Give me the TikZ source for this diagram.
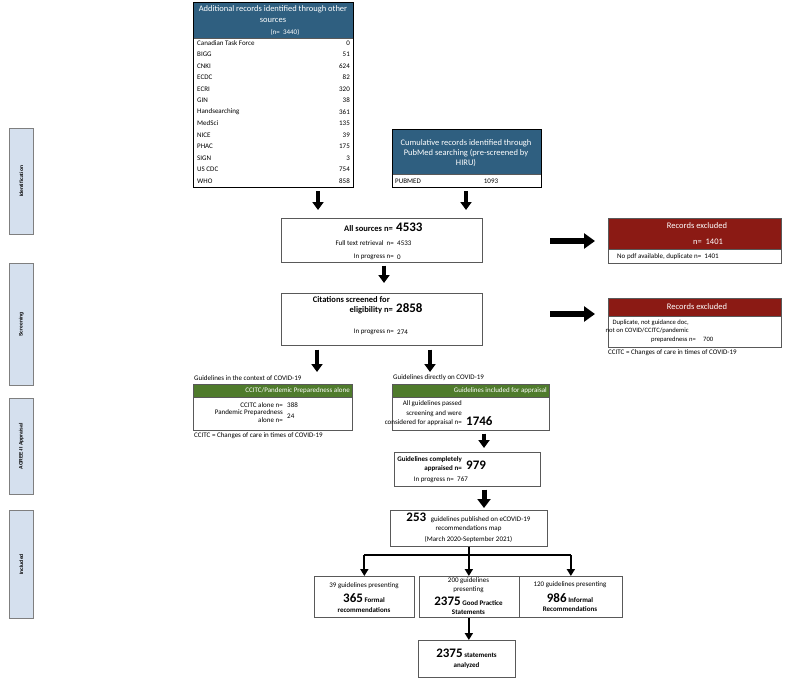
\documentclass[tikz,border=0pt]{standalone}
\usepackage{fontspec}
\setmainfont{Carlito}
\newfontfamily\arialf{Liberation Sans}
\usetikzlibrary{arrows.meta,calc}
\definecolor{hblue}{HTML}{2F5F80}
\definecolor{hred}{HTML}{8B1A14}
\definecolor{hgreen}{HTML}{4F7B2C}
\definecolor{sideblue}{HTML}{D5E0EE}
\definecolor{sidegray}{HTML}{7F7F7F}
\definecolor{boxgray}{HTML}{595959}
\begin{document}
\begin{tikzpicture}[x=1pt,y=-1pt,
  frame/.style={draw=boxgray, line width=0.7pt, anchor=north west, inner sep=0pt},
  thickframe/.style={draw=black, line width=1.4pt, anchor=north west, inner sep=0pt},
  head/.style={anchor=north west, inner sep=0pt, draw=boxgray, line width=0.7pt},
  t/.style={inner sep=0pt, font=\fontsize{7}{8}\selectfont},
  tb/.style={inner sep=0pt, font=\fontsize{8.5}{9.5}\selectfont\bfseries},
  tbs/.style={inner sep=0pt, font=\fontsize{7}{8}\selectfont\bfseries},
  hd/.style={inner sep=0pt, text=white, font=\fontsize{8.5}{9.5}\selectfont},
  hdg/.style={inner sep=0pt, text=white, font=\fontsize{7}{8}\selectfont},
  big/.style={inner sep=0pt, font=\fontsize{13}{13}\selectfont\bfseries},
  side/.style={draw=sidegray, fill=sideblue, line width=0.8pt, anchor=north west, inner sep=0pt},
  sidetext/.style={inner sep=0pt, rotate=90, font=\arialf\fontsize{5}{6}\selectfont\bfseries},
  blockdown/.style={line width=4.5pt, -{Triangle[width=11pt,length=8pt]}},
  blockright/.style={line width=6pt, -{Triangle[width=15pt,length=11pt]}},
  conn/.style={line width=2pt},
  connarrow/.style={line width=2pt, -{Triangle[width=8pt,length=7pt]}}
]
\useasboundingbox (0,0) rectangle (789,680);

% ---------- side labels ----------
\node[side, minimum width=24pt, minimum height=106pt] (sid1) at (9,128) {};
\node[sidetext] (sid1t) at (sid1.center) {Identification};
\node[side, minimum width=24pt, minimum height=122pt] (sid2) at (9,263) {};
\node[sidetext] (sid2t) at (sid2.center) {Screening};
\node[side, minimum width=24pt, minimum height=96pt] (sid3) at (9,398) {};
\node[sidetext] (sid3t) at (sid3.center) {AGREE-II Appraisal};
\node[side, minimum width=24pt, minimum height=108pt] (sid4) at (9,510) {};
\node[sidetext] (sid4t) at (sid4.center) {Included};

% ---------- additional records ----------
\node[head, fill=hblue, minimum width=160pt, minimum height=36pt] (addh) at (193,2) {};
\node[hd] (addh1) at (273,9.5) {Additional records identified through other};
\node[hd] (addh2) at (273,20.5) {sources};
\node[hdg] (addh3) at (285,32) {(n=\ \ 3440)};
\foreach \n/\v [count=\i from 0] in {Canadian Task Force/0, BIGG/51, CNKI/624, ECDC/82, ECRI/320, GIN/38, Handsearching/361, MedSci/135, NICE/39, PHAC/175, SIGN/3, US CDC/754, WHO/858}{
  \node[t, anchor=west] (r\i) at (197,{43+11.5*\i}) {\n};
  \node[t, anchor=east] (v\i) at (350,{43+11.5*\i}) {\v};
}
\node[thickframe, minimum width=160pt, minimum height=185pt] (add) at (193,2) {};

% ---------- PubMed ----------
\node[head, fill=hblue, minimum width=149pt, minimum height=45pt] (pubh) at (392,129) {};
\node[hd] (pubh1) at (466,143) {Cumulative records identified through};
\node[hd] (pubh2) at (466,153) {PubMed searching (pre-screened by};
\node[hd] (pubh3) at (466,163) {HIRU)};
\node[t, anchor=west] (pubr) at (395,181) {PUBMED};
\node[t] (pubv) at (491,181) {1093};
\node[thickframe, minimum width=149pt, minimum height=58pt] (pubm) at (392,129) {};

% ---------- all sources ----------
\node[frame, minimum width=201pt, minimum height=44pt] (all) at (281,218) {};
\node[tb, anchor=east] (all1) at (393,228.5) {All sources n=};
\node[big, anchor=west] (all1v) at (396,227) {4533};
\node[t, anchor=east] (all2) at (394,243) {Full text retrieval\ \ n=};
\node[t, anchor=west] (all2v) at (397,243) {4533};
\node[t, anchor=east] (all3) at (394,257) {In progress n=};
\node[t, anchor=west] (all3v) at (397,257) {0};

\coordinate (ax1) at (318,0);
\coordinate (ax2) at (466,0);
\draw[blockdown, shorten <=3pt, shorten >=8pt] (add.south -| ax1) -- (all.north -| ax1);
\draw[blockdown, shorten <=3pt, shorten >=8pt] (pubm.south -| ax2) -- (all.north -| ax2);

% ---------- citations ----------
\node[frame, minimum width=201pt, minimum height=52pt] (cit) at (281,293) {};
\node[tb, anchor=east] (cit1) at (390,300) {Citations screened for};
\node[tb, anchor=east] (cit2) at (393,310) {eligibility n=};
\node[big, anchor=west] (cit2v) at (396,308) {2858};
\node[t, anchor=east] (cit3) at (394,332) {In progress n=};
\node[t, anchor=west] (cit3v) at (397,332) {274};

\coordinate (ax3) at (384,0);
\draw[blockdown, shorten <=3pt, shorten >=10pt] (all.south -| ax3) -- (cit.north -| ax3);

% ---------- excluded 1 ----------
\node[head, fill=hred, minimum width=173pt, minimum height=31pt] (ex1h) at (608,218) {};
\node[hd] (ex1h1) at (697,226) {Records excluded};
\node[hd] (ex1h2) at (708,242) {n=\ \ 1401};
\node[frame, minimum width=173pt, minimum height=45pt] (ex1) at (608,218) {};
\node[t, anchor=west] (ex1b) at (617,257) {No pdf available, duplicate n=\ \ 1401};
\coordinate (rs1) at (550,241);
\coordinate (re1) at (595,241);
\draw[blockright] (rs1) -- (re1);

% ---------- excluded 2 ----------
\node[head, fill=hred, minimum width=173pt, minimum height=18pt] (ex2h) at (608,298) {};
\node[hd] (ex2h1) at (697,307) {Records excluded};
\node[frame, minimum width=173pt, minimum height=49pt] (ex2) at (608,298) {};
\node[t, font=\fontsize{6.6}{7.5}\selectfont, anchor=east] (ex2b1) at (689,322.5) {Duplicate, not guidance doc,};
\node[t, font=\fontsize{6.6}{7.5}\selectfont, anchor=east] (ex2b2) at (689,331) {not on COVID/CCITC/pandemic};
\node[t, font=\fontsize{6.6}{7.5}\selectfont, anchor=east] (ex2b3) at (696,339.5) {preparedness n=};
\node[t, font=\fontsize{6.6}{7.5}\selectfont, anchor=west] (ex2b3v) at (703,339.5) {700};
\node[t, anchor=west] (ex2f) at (608,353) {CCITC = Changes of care in times of COVID-19};
\coordinate (rs2) at (550,314);
\coordinate (re2) at (595,314);
\draw[blockright] (rs2) -- (re2);

% ---------- left green ----------
\coordinate (ax4) at (317,0);
\coordinate (ax5) at (430,0);
\node[t, anchor=west] (gl0) at (194,378) {Guidelines in the context of COVID-19};
\node[head, fill=hgreen, minimum width=159pt, minimum height=13pt] (glh) at (193,384) {};
\node[hdg, anchor=east] (glh1) at (350,391) {CCITC/Pandemic Preparedness alone};
\node[frame, minimum width=159pt, minimum height=46pt] (gl) at (193,384) {};
\node[t, anchor=east] (gl1) at (283,405) {CCITC alone n=};
\node[t, anchor=west] (gl1v) at (287,405) {388};
\node[t, anchor=east] (gl2) at (283,412.5) {Pandemic Preparedness};
\node[t, anchor=east] (gl3) at (283,420.5) {alone n=};
\node[t, anchor=west] (gl3v) at (287,416.5) {24};
\node[t, anchor=west] (glf) at (194,436) {CCITC = Changes of care in times of COVID-19};
\draw[blockdown, shorten <=4pt, shorten >=12pt] (cit.south -| ax4) -- (gl.north -| ax4);

% ---------- right green ----------
\node[t, anchor=west] (gr0) at (393,378) {Guidelines directly on COVID-19};
\node[head, fill=hgreen, minimum width=157pt, minimum height=13pt] (grh) at (392,384) {};
\node[hdg, anchor=east] (grh1) at (547,391) {Guidelines included for appraisal};
\node[frame, minimum width=157pt, minimum height=46pt] (gr) at (392,384) {};
\node[t, anchor=east] (gr1) at (462,404) {All guidelines passed};
\node[t, anchor=east] (gr2) at (462,413.5) {screening and were};
\node[t, anchor=east] (gr3) at (462,423) {considered for appraisal n=};
\node[big, anchor=west] (gr3v) at (466,421) {1746};
\draw[blockdown, shorten <=4pt, shorten >=12pt] (cit.south -| ax5) -- (gr.north -| ax5);

% ---------- completely appraised ----------
\node[frame, minimum width=146pt, minimum height=34pt] (ap) at (394,452) {};
\node[tbs, font=\fontsize{7}{8}\selectfont\bfseries, anchor=east] (ap1) at (462,460) {Guidelines completely};
\node[tbs, font=\fontsize{7}{8}\selectfont\bfseries, anchor=east] (ap2) at (462,469) {appraised n=};
\node[big, anchor=west] (ap2v) at (466,465.5) {979};
\node[t, anchor=east] (ap3) at (454,479.5) {In progress n=};
\node[t, anchor=west] (ap3v) at (457,479.5) {767};
\coordinate (ax6) at (484,0);
\draw[blockdown, shorten <=3pt, shorten >=4pt] (gr.south -| ax6) -- (ap.north -| ax6);

% ---------- 253 published ----------
\node[frame, minimum width=157pt, minimum height=36pt] (pb) at (390,510) {};
\node[inner sep=0pt, anchor=center] (pb1) at (468.5,518) {{\fontsize{13}{13}\selectfont\bfseries 253}\ \ {\fontsize{7}{8}\selectfont guidelines published on eCOVID-19}};
\node[t] (pb2) at (468.5,529) {recommendations map};
\node[t] (pb3) at (468.5,539) {(March 2020-September 2021)};
\draw[line width=5pt, -{Triangle[width=13pt,length=9pt]}, shorten <=3pt, shorten >=2pt] (ap.south -| ax6) -- (pb.north -| ax6);

% ---------- bottom boxes ----------
\node[frame, minimum width=100pt, minimum height=41pt] (lb) at (314,576) {};
\node[t] (lb1) at (364,586) {39 guidelines presenting};
\node[inner sep=0pt] (lb2) at (364,598) {{\fontsize{13}{13}\selectfont\bfseries 365}\,{\fontsize{7}{8}\selectfont\bfseries Formal}};
\node[tbs] (lb3) at (364,610) {recommendations};

\node[frame, minimum width=100pt, minimum height=41pt] (mb) at (418.5,576) {};
\node[t] (mb1) at (468.5,580.5) {200 guidelines};
\node[t] (mb2) at (468.5,590) {presenting};
\node[inner sep=0pt] (mb3) at (468.5,601) {{\fontsize{13}{13}\selectfont\bfseries 2375}\,{\fontsize{7}{8}\selectfont\bfseries Good Practice}};
\node[tbs] (mb4) at (468.5,612) {Statements};

\node[frame, minimum width=103pt, minimum height=41pt] (rb) at (519,576) {};
\node[t] (rb1) at (570,585) {120 guidelines presenting};
\node[inner sep=0pt] (rb2) at (570,598) {{\fontsize{13}{13}\selectfont\bfseries 986}\,{\fontsize{7}{8}\selectfont\bfseries Informal}};
\node[tbs] (rb3) at (570,609) {Recommendations};

\coordinate (split) at (pb.south |- 0,555);
\draw[conn] (pb.south) -- (split);
\draw[conn] (lb.north |- split) -- (rb.north |- split);
\draw[connarrow] (lb.north |- split) -- (lb.north);
\draw[connarrow] (split) -- (mb.north);
\draw[connarrow] (rb.north |- split) -- (rb.north);

% ---------- final ----------
\node[frame, minimum width=97pt, minimum height=37pt] (fin) at (418,640) {};
\node[inner sep=0pt] (fin1) at (466.5,653) {{\fontsize{13}{13}\selectfont\bfseries 2375}\,{\fontsize{7}{8}\selectfont\bfseries statements}};
\node[tbs] (fin2) at (466.5,666) {analyzed};
\draw[connarrow] (mb.south) -- (mb.south |- fin.north);
\end{tikzpicture}
\end{document}
